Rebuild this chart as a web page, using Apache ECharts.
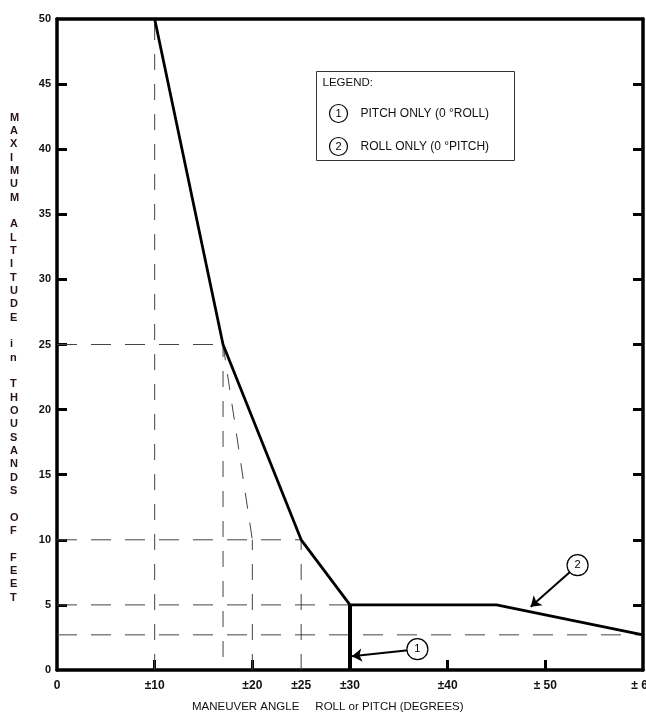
<!DOCTYPE html>
<html>
<head>
<meta charset="utf-8">
<script src="https://cdn.jsdelivr.net/npm/echarts@6/dist/echarts.min.js"></script>
<style>
html,body{margin:0;padding:0;background:#fff;}
#c{width:646px;height:714px;}
</style>
</head>
<body>
<div id="c"></div>
<script>
// ---- data ----
const limitAngles = [10, 17, 25, 30, 45, 60];
const limitAlt = [50, 25, 10, 5, 5, 2.7];
const pitchOnlyAngles = [30, 30];
const pitchOnlyAlt = [0, 5];
const refH = [ // [y, xFrom, xTo]
  [25, 0, 17], [10, 0, 25], [5, 0, 30], [2.7, 0, 60]
];
const refV = [ // [x, yFrom, yTo]
  [10, 0, 50], [17, 1, 25], [20, 0, 10], [25, 0, 10]
];
const refSlant = [[17, 25], [20, 10]];
const xLabelValues = [0, 10, 20, 25, 30, 40, 50, 60];
const xLabelTexts = ['0', '±10', '±20', '±25', '±30', '±40', '± 50', '± 60'];
const xTickValues = [10, 20, 40, 50];
const yTickValues = [5, 10, 15, 20, 25, 30, 35, 40, 45];
const callouts = [ // label, circle [x,y], arrow tip [x,y]
  ['1', [36.9, 1.6], [30.2, 1.05]],
  ['2', [53.3, 8.05], [48.5, 4.85]]
];
const yTitle = 'MAXIMUM ALTITUDE in THOUSANDS OF FEET';
const xTitle = 'MANEUVER ANGLE     ROLL or PITCH (DEGREES)';
const legendItems = [['1', 'PITCH ONLY (0 °ROLL)'], ['2', 'ROLL ONLY (0 °PITCH)']];

const FONT = '"Liberation Sans", Arial, sans-serif';
const chart = echarts.init(document.getElementById('c'), null, {renderer: 'canvas'});

const dashStyle = {color: '#444', width: 1, type: [20, 14]};
const series = [];
refH.forEach(r => series.push({
  type: 'line', data: [[r[1], r[0]], [r[2], r[0]]], showSymbol: false, silent: true,
  lineStyle: dashStyle, z: 2
}));
refV.forEach(r => series.push({
  type: 'line', data: [[r[0], r[1]], [r[0], r[2]]], showSymbol: false, silent: true,
  lineStyle: {color: '#444', width: 1, type: [16, 14]}, z: 2
}));
series.push({
  type: 'line', data: refSlant, showSymbol: false, silent: true,
  lineStyle: {color: '#444', width: 1, type: [16, 14]}, z: 2
});
series.push({
  type: 'line', data: limitAngles.map((a, i) => [a, limitAlt[i]]), showSymbol: false,
  lineStyle: {color: '#000', width: 2.8}, z: 5
});
series.push({
  type: 'line', data: pitchOnlyAngles.map((a, i) => [a, pitchOnlyAlt[i]]), showSymbol: false,
  lineStyle: {color: '#000', width: 4}, z: 5
});
// callouts
series.push({
  type: 'line', data: [[0, 0]], showSymbol: false, z: 6, lineStyle: {width: 0},
  markLine: {
    silent: true, symbol: ['none', 'arrow'], symbolSize: 10,
    lineStyle: {color: '#000', width: 2, type: 'solid'}, label: {show: false},
    data: callouts.map(c => [{coord: c[1]}, {coord: c[2]}])
  }
});
series.push({
  type: 'scatter', data: callouts.map(c => ({value: c[1], name: c[0]})), z: 8,
  symbol: 'circle', symbolSize: 21,
  itemStyle: {color: '#fff', borderColor: '#000', borderWidth: 1.2, opacity: 1},
  label: {show: true, position: 'inside', formatter: p => p.name, color: '#000',
    fontFamily: FONT, fontSize: 11}
});

const axisLineStyle = {color: '#000', width: 3.5};
const option = {
  animation: false,
  backgroundColor: '#fff',
  grid: {left: 57, right: 3, top: 19, bottom: 44, containLabel: false, outerBoundsMode: 'none'},
  xAxis: [{
    type: 'value', min: 0, max: 60, interval: 5, position: 'bottom',
    axisLine: {show: true, onZero: false, lineStyle: axisLineStyle},
    axisTick: {show: true, inside: true, length: 10, lineStyle: {color: '#000', width: 3}, customValues: xTickValues},
    axisLabel: {
      show: true, margin: 10, color: '#111', fontFamily: FONT, fontSize: 12, fontWeight: 'bold',
      customValues: xLabelValues,
      formatter: v => { const i = xLabelValues.indexOf(v); return i >= 0 ? xLabelTexts[i] : ''; },
      showMinLabel: true, showMaxLabel: true
    },
    splitLine: {show: false}
  }, {
    type: 'value', min: 0, max: 60, position: 'top',
    axisLine: {show: true, onZero: false, lineStyle: axisLineStyle},
    axisTick: {show: false}, axisLabel: {show: false}, splitLine: {show: false}
  }],
  yAxis: [{
    type: 'value', min: 0, max: 50, interval: 5, position: 'left',
    axisLine: {show: true, onZero: false, lineStyle: axisLineStyle},
    axisTick: {show: true, inside: true, length: 10, lineStyle: {color: '#000', width: 3}, customValues: yTickValues},
    axisLabel: {show: true, margin: 6, color: '#111', fontFamily: FONT, fontSize: 11, fontWeight: 'bold'},
    splitLine: {show: false}
  }, {
    type: 'value', min: 0, max: 50, interval: 5, position: 'right',
    axisLine: {show: true, onZero: false, lineStyle: axisLineStyle},
    axisTick: {show: true, inside: true, length: 10, lineStyle: {color: '#000', width: 3}, customValues: yTickValues},
    axisLabel: {show: false}, splitLine: {show: false}
  }],
  series: series,
  graphic: [
    {
      type: 'text', left: 10, top: 111, silent: true,
      style: {
        text: yTitle.split('').join('\n'),
        fill: '#2a1414', font: 'bold 11px ' + FONT, lineHeight: 13.33, align: 'center'
      }
    },
    {
      type: 'text', left: 192, top: 701, silent: true,
      style: {text: xTitle, fill: '#111', font: '11.5px ' + FONT}
    },
    {
      type: 'group', left: 316, top: 71, silent: true,
      children: [
        {type: 'rect', shape: {x: 0, y: 0, width: 198, height: 89},
          style: {fill: '#fff', stroke: '#333', lineWidth: 1}},
        {type: 'text', x: 6, y: 5, style: {text: 'LEGEND:', fill: '#111', font: '11.5px ' + FONT}},
      ].concat(...legendItems.map((it, i) => [
        {type: 'circle', shape: {cx: 22, cy: 42 + i * 33, r: 9},
          style: {fill: '#fff', stroke: '#000', lineWidth: 1.2}},
        {type: 'text', x: 22, y: 42 + i * 33,
          style: {text: it[0], fill: '#000', font: '11px ' + FONT, align: 'center', verticalAlign: 'middle'}},
        {type: 'text', x: 44, y: 42 + i * 33,
          style: {text: it[1], fill: '#111', font: '12px ' + FONT, verticalAlign: 'middle'}}
      ]))
    }
  ]
};
chart.setOption(option);
</script>
</body>
</html>
